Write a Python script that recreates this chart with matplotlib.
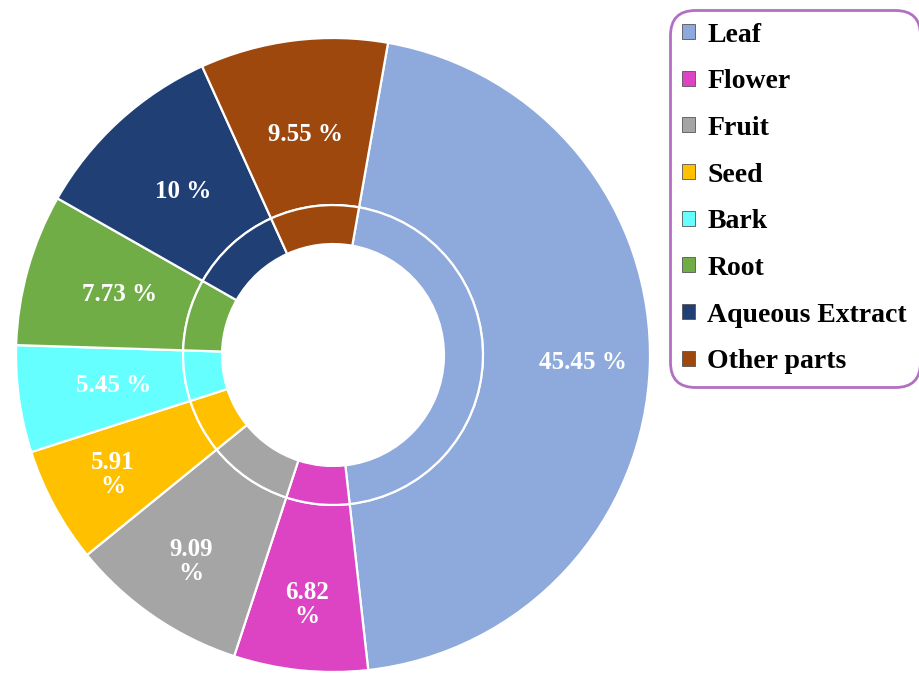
import numpy as np
import matplotlib.pyplot as plt

# data (clockwise from Leaf)
parts = ['Leaf', 'Flower', 'Fruit', 'Seed', 'Bark', 'Root', 'Aqueous Extract', 'Other parts']
shares = [45.45, 6.82, 9.09, 5.91, 5.45, 7.73, 10, 9.55]
pct_labels = ['45.45 %', '6.82\n%', '9.09\n%', '5.91\n%', '5.45 %', '7.73 %', '10 %', '9.55 %']
colors = ['#8EA9DB', '#DD44C4', '#A5A5A5', '#FFC000', '#66FFFF', '#70AD47', '#203F74', '#9E480E']

plt.rcParams['font.family'] = ['Liberation Serif', 'DejaVu Serif']

fig = plt.figure(figsize=(9.2, 6.73), dpi=100)
ax = fig.add_axes([16 / 920, 1 / 673, 634 / 920, 634 / 673])

wp = dict(edgecolor='white', linewidth=1.6)

# outer ring
outer, _ = ax.pie(shares, colors=colors, startangle=80, counterclock=False,
                  radius=1.0, wedgeprops=dict(width=0.527, **wp))
# thin inner ring
ax.pie(shares, colors=colors, startangle=80, counterclock=False,
       radius=0.473, wedgeprops=dict(width=0.123, **wp))

# percentage labels
for w, lab in zip(outer, pct_labels):
    mid = np.deg2rad((w.theta1 + w.theta2) / 2)
    r = 0.79 if '\n' in lab or lab.startswith('45') else 0.70
    ax.text(r * np.cos(mid), r * np.sin(mid), lab, ha='center', va='center',
            color='white', fontsize=18, fontweight='bold', linespacing=1.05)

ax.set_xlim(-1, 1)
ax.set_ylim(-1, 1)
ax.set_aspect('equal')

leg = ax.legend(outer, parts, loc='upper left',
                bbox_to_anchor=(670 / 920, 1 - 10 / 673), bbox_transform=fig.transFigure,
                borderaxespad=0, frameon=True, fancybox=True,
                prop=dict(family='Liberation Serif', weight='bold', size=20),
                handlelength=0.45, handleheight=0.45, handletextpad=0.45,
                labelspacing=0.78, borderpad=0.45)
frame = leg.get_frame()
frame.set_edgecolor('#A04CB4')
frame.set_linewidth(2)
frame.set_boxstyle('round', pad=0, rounding_size=0.9)
for h in leg.legend_handles:
    h.set_edgecolor('#555555')
    h.set_linewidth(0.6)

plt.savefig('out.png', dpi=100)
